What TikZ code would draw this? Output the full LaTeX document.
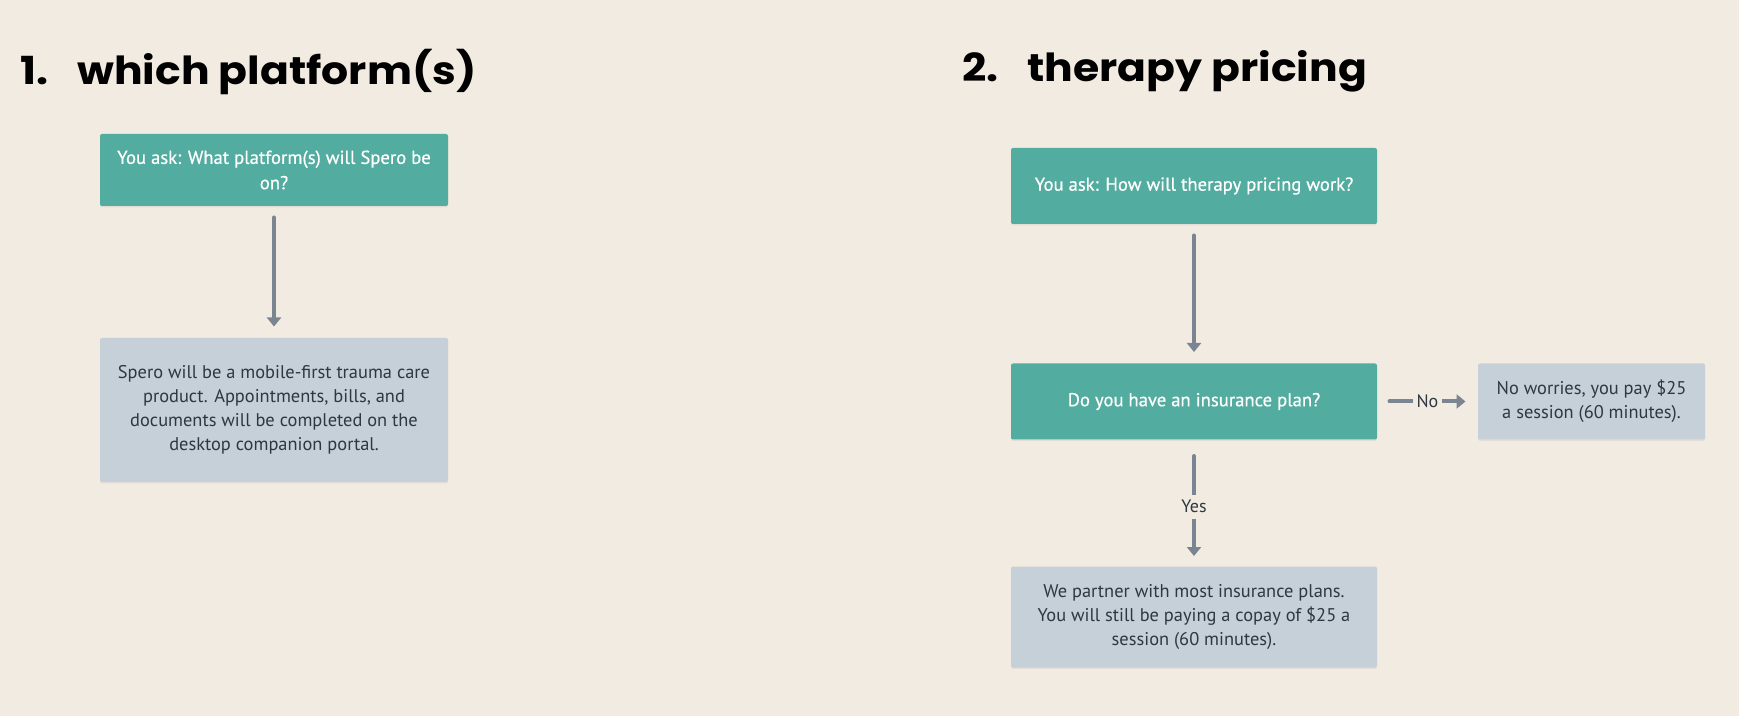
\documentclass[tikz,border=0pt]{standalone}
\usepackage{fontspec}
\setmainfont{PT Sans}
\newfontfamily\headfont{Poppins}[FakeStretch=1.1]
\newfontfamily\askfont{PT Sans}[FakeBold=0.6]
\usetikzlibrary{arrows.meta,shadows}

\definecolor{bgcream}{HTML}{F2EBE1}
\definecolor{askteal}{HTML}{52AC9F}
\definecolor{answergray}{HTML}{C6D0D8}
\definecolor{answerink}{HTML}{2F3742}
\definecolor{flowgray}{HTML}{7B8592}

\tikzset{every picture/.style={line width=0.75pt}}
\tikzset{
  headline/.style={inner sep=0pt, font=\headfont\bfseries\fontsize{29}{34}\selectfont},
  box/.style={rounded corners=1.5pt, align=center, inner sep=0pt,
    drop shadow={shadow xshift=0pt, shadow yshift=-1pt, opacity=0.12}},
  askbox/.style={box, fill=askteal, text=white, font=\askfont\fontsize{14}{19}\selectfont},
  answerbox/.style={box, fill=answergray, text=answerink, font=\fontsize{13.8}{18}\selectfont},
  flow/.style={draw=flowgray, line width=3pt, line cap=round,
    -{Triangle[width=10.5pt,length=6.75pt]}, shorten <=8.25pt, shorten >=8.25pt},
  flowlabel/.style={fill=bgcream, text=answerink, inner xsep=2.5pt, inner ysep=4pt,
    font=\fontsize{13.5}{15}\selectfont}
}

\begin{document}
\begin{tikzpicture}[x=0.75pt,y=0.75pt,yscale=-1,xscale=1]
%set diagram to the full canvas
\fill[bgcream] (0,0) rectangle (1739,716);
\useasboundingbox (0,0) rectangle (1739,716);

% Text Node
\node[headline, anchor=base west] (head1) at (20,85) {\makebox[42.75pt][l]{1.}which platform(s)};
% Text Node
\node[headline, anchor=base west] (head2) at (962,82) {\makebox[48.75pt][l]{2.}therapy pricing};

%Shape: Rectangle
\node[askbox, minimum width=261pt, minimum height=54pt] (platask) at (274,170)
  {You ask: What platform(s) will Spero be\\on?};
%Shape: Rectangle
\node[answerbox, minimum width=261pt, minimum height=108pt] (platans) at (274,410)
  {Spero will be a mobile-first trauma care\\product. Appointments, bills, and\\documents will be completed on the\\desktop companion portal.};

%Shape: Rectangle
\node[askbox, minimum width=274.5pt, minimum height=57pt] (priceask) at (1194,186)
  {You ask: How will therapy pricing work?};
%Shape: Rectangle
\node[askbox, minimum width=274.5pt, minimum height=57pt] (insplan) at (1194,401.5)
  {Do you have an insurance plan?};
%Shape: Rectangle
\node[answerbox, minimum width=170.25pt, minimum height=57pt] (noplan) at (1591.5,401.5)
  {No worries, you pay \$25\\a session (60 minutes).};
%Shape: Rectangle
\node[answerbox, minimum width=274.5pt, minimum height=75.75pt] (yesplan) at (1194,617)
  {We partner with most insurance plans.\\You will still be paying a copay of \$25 a\\session (60 minutes).};

%Straight Lines
\draw[flow] (platask) -- (platans);
%Straight Lines
\draw[flow] (priceask) -- (insplan);
%Straight Lines
\draw[flow, shorten <=9pt, shorten >=9pt] (insplan) -- node[flowlabel] {No} (noplan);
%Straight Lines
\draw[flow, shorten <=12pt, shorten >=7.5pt] (insplan) -- node[flowlabel, pos=0.53] {Yes} (yesplan);

\end{tikzpicture}
\end{document}
